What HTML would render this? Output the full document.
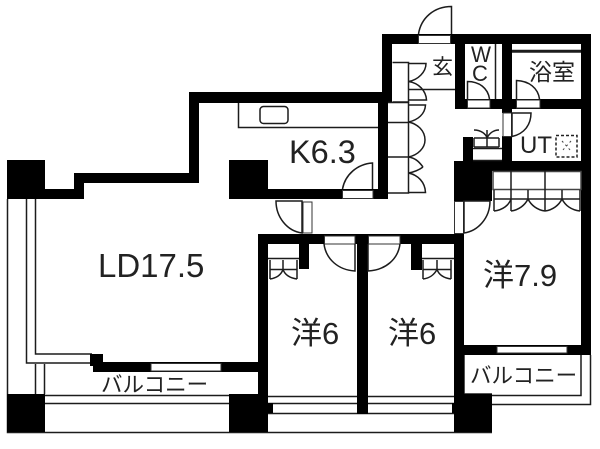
<!DOCTYPE html>
<html><head><meta charset="utf-8"><style>
html,body{margin:0;padding:0;background:#fff;width:600px;height:449px;overflow:hidden}
svg{display:block}
text{font-family:"Liberation Sans","Noto Sans CJK JP",sans-serif;fill:#222}
.l{fill:none;stroke:#1c1c1c;stroke-width:1.5}
.w{fill:#fff;stroke:#333;stroke-width:1}
</style></head><body>
<svg width="600" height="449" viewBox="0 0 600 449" xmlns="http://www.w3.org/2000/svg">
<!-- outer lines -->
<g class="l">
<path d="M7.5 199V432.5H492"/>
<path d="M26.5 199V363H92"/>
<path d="M35.5 199V354H92"/>
<path d="M35.5 364V394M44.5 364V394"/>
<path d="M45 395.5H229M45 403.5H229"/>
<path d="M268 396.5H454M268 403.5H454M268 413.5H454"/>
<path d="M492 395.5H581V355M590.500 355V404.500H492"/>
<path d="M464 355V394H492"/>
</g>
<g fill="#000">
<!-- left & top walls -->
<rect x="7" y="160" width="38" height="39"/>
<rect x="26" y="189" width="58" height="10"/>
<rect x="74" y="173" width="10" height="26"/>
<rect x="74" y="173" width="125" height="10"/>
<rect x="189" y="92" width="10" height="91"/>
<rect x="189" y="92" width="203" height="11"/>
<rect x="382" y="34" width="10" height="69"/>
<rect x="382" y="34" width="209" height="10"/>
<rect x="378" y="92" width="10" height="107"/>
<rect x="581" y="34" width="10" height="321"/>
<rect x="229" y="160" width="39" height="39"/>
<rect x="229" y="189" width="159" height="10"/>
<!-- core -->
<rect x="455" y="44" width="10" height="65"/>
<rect x="455" y="99" width="136" height="10"/>
<rect x="502" y="44" width="10" height="69"/>
<rect x="502" y="136" width="10" height="25"/>
<rect x="463" y="137" width="10" height="24"/>
<rect x="454" y="161" width="137" height="10"/>
<rect x="454" y="161" width="38" height="40"/>
<!-- room walls -->
<rect x="258" y="234" width="206" height="10"/>
<rect x="258" y="234" width="10" height="161"/>
<rect x="357" y="234" width="11" height="180"/>
<rect x="454" y="234" width="10" height="160"/>
<rect x="299" y="244" width="10" height="25"/>
<rect x="411" y="244" width="11" height="26"/>
<rect x="464" y="345" width="127" height="10"/>
<!-- columns -->
<rect x="7" y="394" width="38" height="38"/>
<rect x="229" y="394" width="39" height="38"/>
<rect x="454" y="394" width="38" height="38"/>
<rect x="268" y="403" width="5" height="10"/>
<rect x="452" y="403" width="3" height="10"/>
<!-- LD bottom -->
<rect x="90" y="354" width="13" height="12"/>
<rect x="93" y="362" width="165" height="10"/>
</g>
<!-- openings -->
<g class="w">
<rect x="151" y="363.500" width="70" height="7.500"/>
<rect x="497" y="346.500" width="70" height="6.500"/>
<rect x="418.500" y="35.500" width="32" height="8"/>
<rect x="467.500" y="100" width="22.500" height="8"/>
<rect x="516.500" y="100" width="23.500" height="8"/>
<rect x="503" y="113" width="8.500" height="23.500"/>
<rect x="342.500" y="190.500" width="30.500" height="8"/>
<rect x="303" y="202" width="9" height="31"/>
<rect x="454.500" y="201.500" width="9" height="32"/>
<rect x="324.500" y="236" width="30.500" height="8"/>
<rect x="368.500" y="236" width="31.500" height="8"/>
</g>
<!-- door arcs -->
<g class="l">
<path d="M451.500 34V6.500C434 6.500 421 18 418.500 34"/>
<path d="M467.500 99V81.500C479 81.500 488 88 489.500 99"/>
<path d="M516.500 99V80.500C529 81 538 88 539.500 99"/>
<path d="M512 136.500V113H531C531 125 524 134 512 136.500Z"/>
<path d="M372.500 189V163C357 164 345 175 342.500 189"/>
<path d="M302 201H276C276 217 287 231 302 233Z"/>
<path d="M464 201H490C490 218 478 231 464 233Z"/>
<path d="M355 244V271C338 270 326 259 324 244"/>
<path d="M368 244V271C386 270 398 259 400 244"/>
<!-- counter -->
<path d="M238.500 103V127.500H378"/>
<rect x="260" y="106.500" width="28" height="17" rx="3.500"/>
</g>
<!-- bedroom closets -->
<g class="l">
<path d="M268 258.500H299M270 260V279M297 260V279M270 269.500H297M283 260V269"/>
<path d="M270 279C277 278 281 275 283 269.500C285 275 290 278 297 279"/>
<path d="M422 258.500H454M423 260V279M451 260V279M423 269.500H451M437 260V269"/>
<path d="M423 279C430 278 434 275 437 269.500C439 275 444 278 451 279"/>
</g>
<!-- entrance closets -->
<g class="l">
<path d="M392.500 62.500H408.500V102H392.500"/>
<path d="M388 102.500H408.500V193H388M388 122.500H408.500M388 157H408.500"/>
<path d="M408.500 63.500H426C426 72 418 80 408.500 81.500"/>
<path d="M408.500 81.500C419 83 426 91 426.500 100H408.500"/>
<path d="M408.500 105H425.500C425 114 418 120 408.500 122"/>
<path d="M408.500 122C418 124 425 131 425 140C425 148 418 155 408.500 157"/>
<path d="M408.500 173C418 175 425 182 425.500 192.500H408.500"/>
<path d="M408.500 157C416 158 420 163 423 167M408.500 173C414 172 419 170 423 167" />
<path d="M408.500 89.500H455"/>
</g>
<!-- core details -->
<g class="l">
<path d="M495.500 44V99"/>
<path d="M512 50.500H581M512 52H581"/>
<path d="M473 148.500H502M473 160.500H502"/>
<path d="M474 138V147M499 138V147M487 130V147M474 138H499M474 147H499"/>
<path d="M474 130C481 130 486 134 487 138C489 134 493 130 499 130"/>
</g>
<rect x="556" y="135.500" width="21" height="21.500" fill="none" stroke="#222" stroke-width="1.500" stroke-dasharray="3 2"/>
<path d="M562 141L571 151M571 141L562 151" stroke="#444" stroke-width="1" stroke-dasharray="2 3" fill="none"/>
<!-- right closet -->
<g class="l">
<rect x="493" y="171.500" width="88" height="18" fill="#fff" stroke="#444"/>
<path d="M511 171V190M545 171V190"/>
<path d="M494 190V211M511 190V211M528 190V199M545 190V211M562 190V199M580 190V211M494 199H580"/>
<path d="M494 211C503 210 509 205 511 199"/>
<path d="M511 211C519 210 525 205 528 199C531 205 537 210 545 211"/>
<path d="M545 211C553 210 559 205 562 199C565 205 571 210 580 211"/>
</g>
<!-- labels -->
<text x="289" y="163" font-size="32.500">K6.3</text>
<text x="98" y="277" font-size="33">LD17.5</text>
<text x="520" y="153" font-size="24" textLength="32" lengthAdjust="spacingAndGlyphs">UT</text>
<text x="471" y="62" font-size="22" textLength="20" lengthAdjust="spacingAndGlyphs">W</text>
<text x="472" y="81" font-size="22">C</text>
<text x="529" y="80" font-size="23">浴室</text>
<text x="432" y="74" font-size="21">玄</text>
<text x="483" y="286" font-size="31">洋7.9</text>
<text x="291" y="344" font-size="31">洋6</text>
<text x="388" y="344" font-size="31">洋6</text>
<text x="101" y="392" font-size="21.500">バルコニー</text>
<text x="470" y="383" font-size="21.500">バルコニー</text>
</svg>
</body></html>
